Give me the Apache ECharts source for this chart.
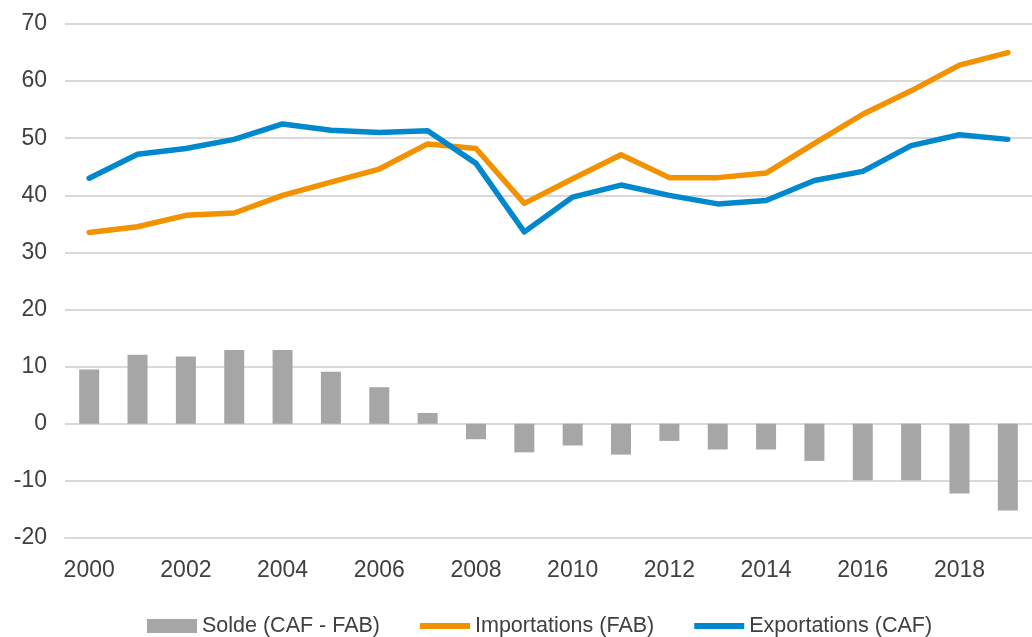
<!DOCTYPE html>
<html>
<head>
<meta charset="utf-8">
<script src="https://cdn.jsdelivr.net/npm/echarts@6/dist/echarts.min.js"></script>
<style>
  html, body { margin: 0; padding: 0; background: #fff; }
  #chart { width: 1032px; height: 637px; }
</style>
</head>
<body>
<div id="chart"></div>
<script>
const years = ['2000', '2001', '2002', '2003', '2004', '2005', '2006', '2007', '2008', '2009',
  '2010', '2011', '2012', '2013', '2014', '2015', '2016', '2017', '2018', '2019']

// Solde (CAF - FAB)
const solde = [9.5, 12.1, 11.8, 12.9, 12.9, 9.1, 6.4, 1.9, -2.7, -5.0,
  -3.8, -5.4, -3.0, -4.5, -4.5, -6.5, -9.9, -9.9, -12.2, -15.2]

// Importations (FAB)
const importations = [33.5, 34.5, 36.5, 36.9, 40.0, 42.3, 44.6, 49.0, 48.2, 38.6,
  42.9, 47.1, 43.1, 43.1, 43.9, 49.1, 54.2, 58.3, 62.8, 65.0]

// Exportations (CAF)
const exportations = [43.0, 47.2, 48.2, 49.8, 52.5, 51.4, 51.0, 51.3, 45.6, 33.6,
  39.7, 41.8, 40.0, 38.5, 39.1, 42.6, 44.2, 48.7, 50.6, 49.8]

const seriesNames = ['Solde (CAF - FAB)', 'Importations (FAB)', 'Exportations (CAF)']

const chart = echarts.init(document.getElementById('chart'))

const textColor = '#404040'
const gridColor = '#d9d9d9'
// thin bar inside the 50x14 legend box (degenerate corners keep the box size)
const lineIcon = 'path://M0,0L0.01,0Z M0,4L50,4L50,10L0,10Z M50,14L49.99,14Z'

chart.setOption({
  animation: false,
  textStyle: { fontFamily: 'Liberation Sans, Arial, sans-serif' },
  grid: {
    left: 65,
    right: 0,
    top: 24,
    bottom: 99,
  },
  legend: {
    top: 610,
    left: 142,
    itemWidth: 50,
    itemHeight: 14,
    itemGap: 40,
    textStyle: { fontSize: 21.5, color: textColor },
    data: [
      { name: seriesNames[0], icon: 'rect' },
      { name: seriesNames[1], icon: lineIcon },
      { name: seriesNames[2], icon: lineIcon },
    ],
  },
  xAxis: {
    type: 'category',
    data: years,
    boundaryGap: true,
    axisLine: { onZero: false, lineStyle: { color: gridColor, width: 2 } },
    axisTick: { inside: true, length: 9, lineStyle: { color: gridColor, width: 2 } },
    axisLabel: { interval: 1, fontSize: 23, color: textColor, margin: 21 },
  },
  yAxis: {
    type: 'value',
    min: -20,
    max: 70,
    interval: 10,
    axisLine: { show: false },
    axisTick: { show: false },
    axisLabel: { fontSize: 23, color: textColor, margin: 18 },
    splitLine: { lineStyle: { color: gridColor, width: 2 } },
  },
  series: [
    {
      name: seriesNames[0],
      type: 'bar',
      data: solde,
      barWidth: 20,
      itemStyle: { color: '#a6a6a6' },
    },
    {
      name: seriesNames[1],
      type: 'line',
      data: importations,
      showSymbol: false,
      symbol: 'none',
      itemStyle: { color: '#f39200' },
      lineStyle: { color: '#f39200', width: 5.5, cap: 'round', join: 'round' },
    },
    {
      name: seriesNames[2],
      type: 'line',
      data: exportations,
      showSymbol: false,
      symbol: 'none',
      itemStyle: { color: '#0088ce' },
      lineStyle: { color: '#0088ce', width: 5.5, cap: 'round', join: 'round' },
    },
  ],
})
</script>
</body>
</html>
